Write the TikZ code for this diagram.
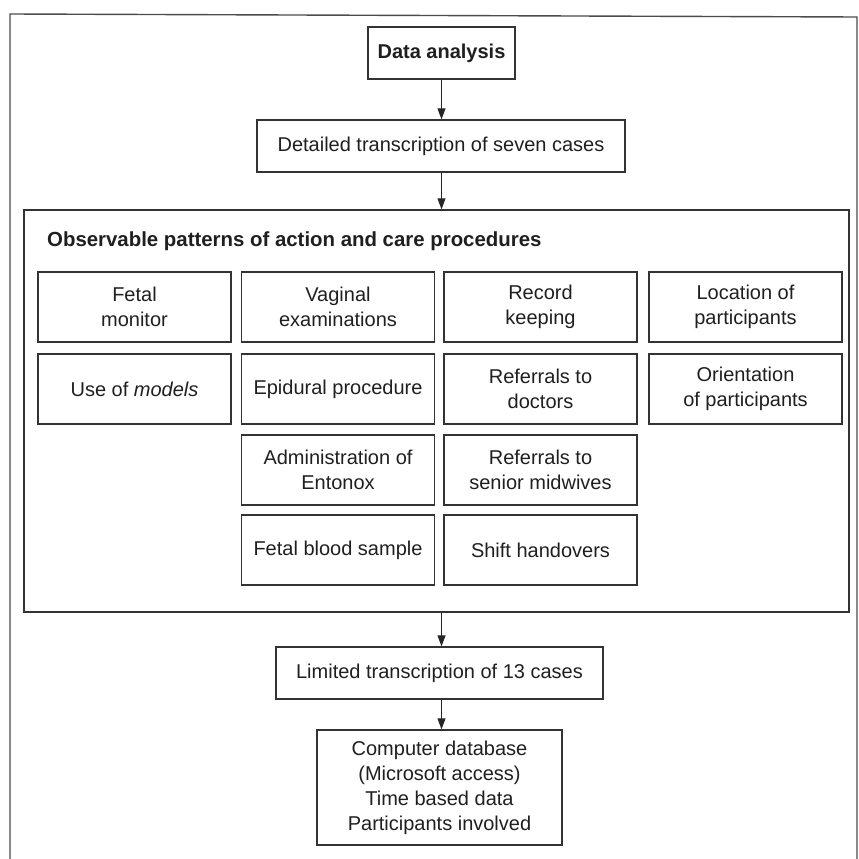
\documentclass[tikz,border=0pt]{standalone}
\usepackage{fontspec}
\setmainfont{Liberation Sans}
\usetikzlibrary{arrows.meta}
\begin{document}
\begin{tikzpicture}[x=1pt,y=-1pt,
  every node/.style={font=\fontsize{20}{25}\selectfont, text=black!88},
  box/.style={draw=black!80, line width=1.3pt, rectangle, inner sep=0pt, align=center},
  cell/.style={box, minimum width=193pt, minimum height=70pt},
  arr/.style={draw=black!85, line width=1.1pt, -{Triangle[length=11pt,width=8pt]}}]
\useasboundingbox (0,0) rectangle (859,859);
\clip (0,0) rectangle (859,859);
% page frame
\draw[black!70, line width=1.4pt] (10,866) -- (10,14) -- (857,17) -- (857,866);

% main chain
\node[box, minimum width=147pt, minimum height=52pt, font=\fontsize{20}{25}\selectfont\bfseries] (data) at (441.5,53) {Data analysis};
\node[box, minimum width=368pt, minimum height=52pt] (detail) at (441,146) {Detailed transcription of seven cases};
\node[box, minimum width=825pt, minimum height=402pt] (patterns) at (436.5,411) {};
\node[anchor=west, inner sep=0pt, font=\fontsize{20.4}{25}\selectfont\bfseries] (ptitle) at (47,241) {Observable patterns of action and care procedures};

% grid of observed procedures
\node[cell] (c11) at (134.5,307) {Fetal\\monitor};
\node[cell] (c12) at (338,307) {Vaginal\\examinations};
\node[cell] (c13) at (540.5,307) {Record\\keeping};
\node[cell] (c14) at (745.5,307) {Location of\\participants};
\node[cell] (c21) at (134.5,389) {Use of \textit{models}};
\node[cell] (c22) at (338,389) {Epidural procedure};
\node[cell] (c23) at (540.5,389) {Referrals to\\doctors};
\node[cell] (c24) at (745.5,389) {Orientation\\of participants};
\node[cell] (c32) at (338,470) {Administration of\\Entonox};
\node[cell] (c33) at (540.5,470) {Referrals to\\senior midwives};
\node[cell] (c42) at (338,550) {Fetal blood sample};
\node[cell] (c43) at (540.5,550) {Shift handovers};

\node[box, minimum width=327pt, minimum height=52pt] (limited) at (439.5,673) {Limited transcription of 13 cases};
\node[box, minimum width=245pt, minimum height=115pt] (db) at (439.5,787.5) {Computer database\\(Microsoft access)\\Time based data\\Participants involved};

% connectors
\draw[arr] (data.south) -- (data.south |- detail.north);
\draw[arr] (data.south |- detail.south) -- (data.south |- patterns.north);
\draw[arr] (data.south |- patterns.south) -- (data.south |- limited.north);
\draw[arr] (data.south |- limited.south) -- (data.south |- db.north);
\end{tikzpicture}
\end{document}
